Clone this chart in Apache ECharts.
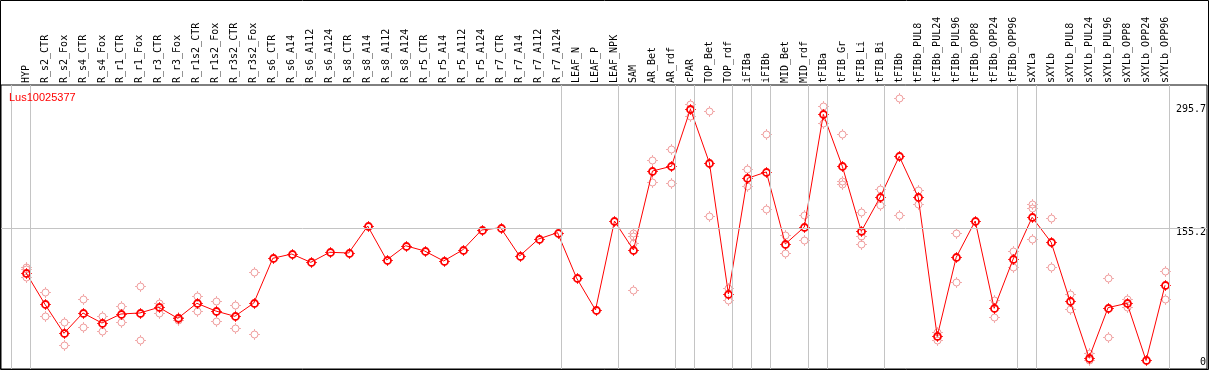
<!DOCTYPE html>
<html><head><meta charset="utf-8">
<script src="https://cdn.jsdelivr.net/npm/echarts@6/dist/echarts.min.js"></script>
<style>html,body{margin:0;padding:0;background:#fff}#c{width:1209px;height:370px}</style>
</head><body><div id="c"></div>
<script>
const geneName = 'Lus10025377';
const categories = ['HYP','R_s2_CTR','R_s2_Fox','R_s4_CTR','R_s4_Fox','R_r1_CTR','R_r1_Fox','R_r3_CTR','R_r3_Fox','R_r1s2_CTR','R_r1s2_Fox','R_r3s2_CTR','R_r3s2_Fox','R_s6_CTR','R_s6_A14','R_s6_A112','R_s6_A124','R_s8_CTR','R_s8_A14','R_s8_A112','R_s8_A124','R_r5_CTR','R_r5_A14','R_r5_A112','R_r5_A124','R_r7_CTR','R_r7_A14','R_r7_A112','R_r7_A124','LEAF_N','LEAF_P','LEAF_NPK','SAM','AR_Bet','AR_rdf','cPAR','TOP_Bet','TOP_rdf','iFIBa','iFIBb','MID_Bet','MID_rdf','tFIBa','tFIB_Gr','tFIB_Li','tFIB_Bi','tFIBb','tFIBb_PUL8','tFIBb_PUL24','tFIBb_PUL96','tFIBb_OPP8','tFIBb_OPP24','tFIBb_OPP96','sXYLa','sXYLb','sXYLb_PUL8','sXYLb_PUL24','sXYLb_PUL96','sXYLb_OPP8','sXYLb_OPP24','sXYLb_OPP96'];
const meanValues = [103.3,66.1,32,55.9,44.1,54.7,55.9,62.5,49.6,67.3,58.2,52,67.6,120.2,125.3,115.5,127.3,126.5,158.2,118.2,135,128.8,117.1,130,153.5,156.2,122.9,142.9,150.4,97.1,59.4,164.1,130,222.9,228.5,295.7,232.4,78.2,214.3,221.8,137.1,157,289.6,228.5,152,192.4,240.2,192,28.4,121.4,164.1,61.4,119.4,168.5,139.1,69.6,3.3,62.2,67.3,0,88.5];
const replicateValues = [[110.4,108,97.9],[80.2,52],[45.3,17.9],[72,39],[52.4,34.3],[64.1,44.9],[87.6,23.8],[68,56.3],[51.2,47.6],[75.9,57.9],[70,46.5],[64.9,38.6],[103.8,30.8],[],[],[],[],[],[],[],[],[],[],[],[],[],[],[],[],[],[],[],[150,146,138,83],[235.9,209.6],[248.5,208.5],[301.8,287.6],[293.2,170],[84.9,71.2],[225.3,204.9],[266.5,178.2],[147.6,126.1],[170.8,141.8],[299.4,279],[266.1,211.5,207.6],[174.4,146.5,137.1],[201.8,182.6],[308.5,170.8],[200.6,183.8],[33.2,24.1],[149.6,92.4],[],[71.2,50.8],[128.8,110.4],[183.8,179.8,142.6],[167.3,109.6],[78.2,61],[8.4,0],[96.7,27.3],[72.4,63.3],[],[105.3,72]];
const groupSizes = [1,28,3,3,1,2,1,1,2,1,3,7,1,7];
const yTickValues = [0,155.2,295.7];

const lineData = meanValues.map((v,i)=>[i,v]);
const repData = [];
replicateValues.forEach((arr,i)=>arr.forEach(v=>repData.push([i,v])));
const sepLines = [];
let acc = 0;
sepLines.push({xAxis: acc - 1 + 0.21});
groupSizes.forEach(g=>{acc += g; sepLines.push({xAxis: acc - 1 + 0.21});});

function markerRenderer(color, lw) {
  return function (params, api) {
    const p = api.coord([api.value(0), api.value(1)]);
    const x = Math.round(p[0]) + 0.5, y = Math.round(p[1]) + 0.5;
    const r = 3.5, a = r + 0.2, b = r + 1.8;
    const st = {stroke: color, lineWidth: 1, fill: null};
    return {type: 'group', children: [
      {type: 'circle', shape: {cx: x, cy: y, r: r}, style: {fill: null, stroke: color, lineWidth: lw}},
      {type: 'line', shape: {x1: x, y1: y - a, x2: x, y2: y - b}, style: st},
      {type: 'line', shape: {x1: x, y1: y + a, x2: x, y2: y + b}, style: st},
      {type: 'line', shape: {x1: x - a, y1: y, x2: x - b, y2: y}, style: st},
      {type: 'line', shape: {x1: x + a, y1: y, x2: x + b, y2: y}, style: st}
    ]};
  };
}

const chart = echarts.init(document.getElementById('c'));
chart.setOption({
  animation:false,
  title:{text:geneName,left:4,top:87,textStyle:{color:'#ff0000',fontSize:11,fontWeight:'normal',fontFamily:'Liberation Sans'}},
  graphic:[{type:'rect',shape:{x:0.5,y:0.5,width:1208,height:369},style:{fill:'none',stroke:'#000',lineWidth:1},silent:true}],
  grid:{left:1,right:1,top:85,bottom:1,show:true,borderColor:'#000',borderWidth:1},
  xAxis:{type:'value',position:'top',min:-25/19,max:1182/19,
    axisLine:{show:false},axisTick:{show:false},splitLine:{show:false},
    axisLabel:{customValues:categories.map((_,i)=>i),rotate:90,margin:2,padding:[4,0,0,0],
      formatter:v=>categories[v]||'',fontFamily:'DejaVu Sans Mono',fontSize:10,color:'#000'}},
  yAxis:{type:'value',position:'right',min:-10,max:324.1,
    axisLine:{show:false},axisTick:{show:false},splitLine:{show:false},
    axisLabel:{inside:true,margin:1,customValues:yTickValues,fontFamily:'DejaVu Sans Mono',fontSize:10,color:'#000',
      formatter:v=>v===155.2?'{d|155.2}':(v===0?'{z|0}':String(v)),
      rich:{d:{padding:[8,0,0,0],fontFamily:'DejaVu Sans Mono',fontSize:10,color:'#000'},
            z:{padding:[4,0,0,0],fontFamily:'DejaVu Sans Mono',fontSize:10,color:'#000'}}}},
  series:[
    {type:'line',data:[],silent:true,
      markLine:{silent:true,symbol:'none',label:{show:false},lineStyle:{color:'#c4c4c4',width:1,type:'solid'},
        data:sepLines.concat([{yAxis:155.2}])}},
    {type:'custom',data:repData,renderItem:markerRenderer('#ef9a9a',1),silent:true,z:2},
    {type:'line',data:lineData,symbol:'none',lineStyle:{color:'#ff0000',width:1},z:3,silent:true},
    {type:'custom',data:lineData,renderItem:markerRenderer('#ff0000',1.8),silent:true,z:4}
  ]
});
</script></body></html>
